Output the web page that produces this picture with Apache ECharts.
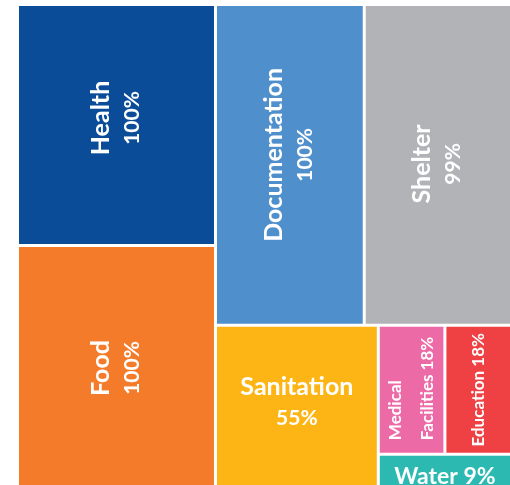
<!DOCTYPE html>
<html><head><meta charset="utf-8">
<script src="https://cdn.jsdelivr.net/npm/echarts@6/dist/echarts.min.js"></script>
<style>html,body{margin:0;padding:0;background:#fff}#c{width:510px;height:485px}</style>
</head><body><div id="c"></div>
<script>
// ---- data ----
const categories = ['Health', 'Food', 'Documentation', 'Shelter', 'Sanitation', 'Medical Facilities', 'Education', 'Water'];
const values = [100, 100, 100, 99, 55, 18, 18, 9];

// ---- styles ----
const palette = ['#0b4c99', '#f47b2a', '#4f8fcc', '#b1b3b6', '#fdb515', '#ec6ba7', '#ef4044', '#2cb9b1'];
const FONT = 'Lato';
const rich = {
  n: { fontFamily: FONT, fontWeight: 'bold', fontSize: 25, lineHeight: 31, color: '#fff' },
  p: { fontFamily: FONT, fontWeight: 'bold', fontSize: 21, lineHeight: 31, color: '#fff' },
  s: { fontFamily: FONT, fontWeight: 'bold', fontSize: 17, lineHeight: 32, color: '#fff' },
  w: { fontFamily: FONT, fontWeight: 'bold', fontSize: 23, lineHeight: 26, color: '#fff' }
};
// label layout modes per category (shift = move along the text direction, px)
const labelMode = {
  'Health': { rotate: 90, mode: 'two', shift: 7 },
  'Food': { rotate: 90, mode: 'two', shift: -2 },
  'Documentation': { rotate: 90, mode: 'two', shift: 10 },
  'Shelter': { rotate: 90, mode: 'two', shift: 1 },
  'Sanitation': { rotate: 0, mode: 'two', shift: 0, lift: 3 },
  'Medical Facilities': { rotate: 90, mode: 'wrap', shift: 0 },
  'Education': { rotate: 90, mode: 'small', shift: 0 },
  'Water': { rotate: 0, mode: 'one', shift: 0, lift: -6 }
};

function buildLabel(name, value) {
  const m = labelMode[name];
  const pct = value + '%';
  const lift = m.lift || 0;
  const base = { rotate: m.rotate, verticalAlign: 'top', padding: 0, overflow: 'none', rich: rich };
  if (m.mode === 'two') {
    return Object.assign(base, { formatter: '{n|' + name + '}\n{p|' + pct + '}', align: 'center', offset: [m.shift, -31 - lift] });
  }
  if (m.mode === 'wrap') {
    const i = name.indexOf(' ');
    return Object.assign(base, {
      formatter: '{s|' + name.slice(0, i) + '}\n{s|' + name.slice(i + 1) + ' ' + pct + '}',
      align: 'left', position: ['50%', '90%'], offset: [0, -32]
    });
  }
  if (m.mode === 'small') {
    return Object.assign(base, { formatter: '{s|' + name + ' ' + pct + '}', align: 'center', offset: [m.shift, -16] });
  }
  return Object.assign(base, { formatter: '{w|' + name + ' ' + pct + '}', align: 'center', offset: [0, -13 - lift] });
}

const items = categories.map((name, i) => ({
  name: name,
  value: values[i],
  itemStyle: { color: palette[i] },
  label: buildLabel(name, values[i])
}));

const chart = echarts.init(document.getElementById('c'));
chart.setOption({
  animation: false,
  series: [{
    type: 'treemap',
    left: 19, top: 6, width: 491, height: 479,
    roam: false,
    nodeClick: false,
    sort: false,
    squareRatio: 1.16,
    breadcrumb: { show: false },
    itemStyle: { gapWidth: 3, borderWidth: 0, borderColor: '#fff' },
    label: { show: true, position: 'inside', color: '#fff', fontFamily: FONT, fontWeight: 'bold' },
    emphasis: { disabled: true },
    data: items
  }]
});
</script>
</body></html>
